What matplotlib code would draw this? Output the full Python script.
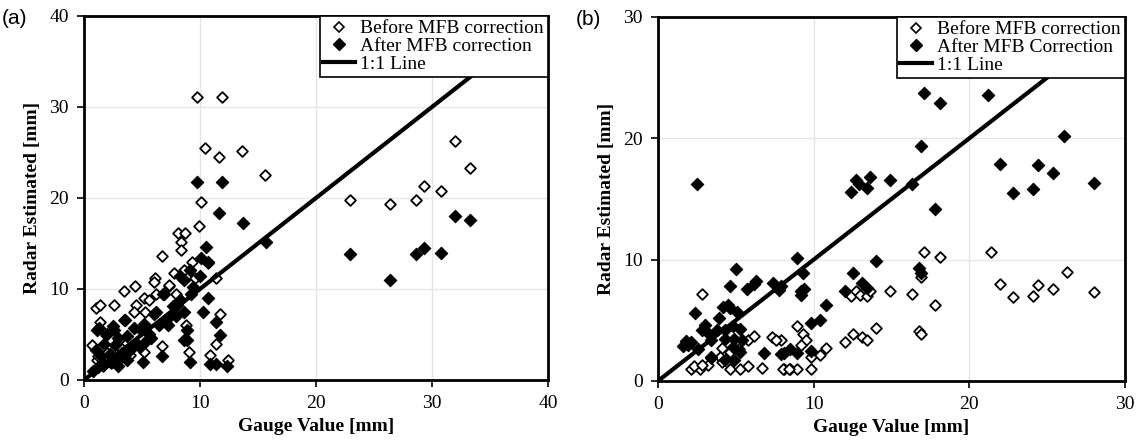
import matplotlib
matplotlib.use("Agg")
import matplotlib.pyplot as plt
from matplotlib.lines import Line2D

# (a) gauge vs radar
a_before_x = [9.7, 11.9, 10.4, 11.6, 13.6, 15.6, 10.1, 9.9, 8.1, 8.7, 8.4, 8.4, 6.7, 9.3,
              10.7, 6.1, 7.8, 8.6, 3.45, 4.4, 7.3, 9.6, 11.4, 1.0, 1.4, 2.6, 4.45, 5.2,
              5.6, 4.3, 5.3, 6.2, 6.0, 7.3, 7.9, 1.4, 3.45, 8.8, 11.7, 5.2, 6.75, 9.05,
              11.4, 10.9, 12.4, 1.1, 0.7, 1.2, 2.0, 2.7, 3.2, 1.6, 2.3, 3.0, 4.0, 1.9,
              22.9, 26.4, 28.6, 29.3, 30.8, 32.0, 33.3]
a_before_y = [31.1, 31.1, 25.5, 24.5, 25.2, 22.5, 19.6, 16.9, 16.1, 16.1, 15.2, 14.3, 13.6,
              13.0, 12.9, 11.2, 11.8, 12.1, 9.8, 10.3, 10.3, 11.2, 11.2, 7.9, 8.2, 8.2, 8.2,
              9.0, 8.8, 7.5, 7.5, 9.5, 10.8, 10.4, 9.5, 6.4, 6.6, 6.0, 7.3, 3.1, 3.7, 3.1,
              4.0, 2.7, 2.2, 2.2, 3.8, 2.6, 3.0, 2.2, 3.5, 1.5, 1.9, 4.4, 2.8, 4.9,
              19.8, 19.3, 19.8, 21.3, 20.8, 26.3, 23.3]

a_after_x = [9.7, 11.9, 11.6, 13.7, 15.7, 10.5, 10.1, 10.7, 8.3, 8.6, 9.1, 10.0, 6.8, 10.7,
             10.3, 11.4, 11.7, 8.9, 8.9, 5.1, 6.7, 9.1, 10.9, 11.4, 12.3, 1.1, 2.5, 3.5,
             6.0, 7.7, 8.3, 1.3, 2.6, 4.3, 5.2, 4.9, 6.2, 6.9, 7.0, 7.9, 8.6, 8.3, 9.2,
             5.3, 8.6, 2.9, 1.7, 3.7, 4.0, 2.7, 1.7, 1.0, 2.0, 2.9, 3.7, 0.8, 1.5, 2.2,
             3.1, 4.6, 5.6, 6.5, 7.4, 1.2, 2.4, 3.3, 4.8, 5.8, 7.2, 8.0, 9.4,
             22.9, 26.4, 28.6, 29.3, 30.8, 32.0, 33.3]
a_after_y = [21.8, 21.8, 18.3, 17.2, 15.2, 14.6, 13.4, 13.0, 11.4, 11.0, 12.1, 11.4, 9.5, 9.0,
             7.5, 6.4, 4.9, 5.5, 4.4, 2.0, 2.6, 2.0, 1.8, 1.8, 1.5, 5.5, 5.9, 6.6, 7.3,
             8.1, 8.8, 5.7, 5.5, 5.7, 6.2, 5.5, 7.5, 9.5, 6.6, 7.0, 7.5, 8.8, 9.5, 4.2,
             4.4, 1.5, 1.8, 2.2, 3.3, 3.8, 4.0, 3.3, 5.1, 4.6, 4.8, 1.0, 2.6, 2.9, 2.4,
             4.0, 5.0, 6.0, 7.0, 1.4, 2.0, 3.0, 3.6, 4.6, 6.0, 8.2, 10.2,
             13.9, 11.0, 13.9, 14.5, 14.0, 18.0, 17.6]

# (b)
b_before_x = [17.1, 18.1, 21.4, 22.0, 22.8, 17.8, 16.9, 14.9, 16.3, 12.4, 12.7, 13.0, 13.4,
              13.6, 14.0, 12.0, 12.5, 13.1, 13.4, 16.8, 16.9, 10.8, 10.4, 9.8, 8.9, 9.3,
              9.5, 9.2, 7.9, 8.1, 8.5, 8.9, 9.8, 24.1, 24.4, 25.4, 26.3, 28.0, 2.8,
              5.8, 6.2, 7.3, 7.6, 6.7, 8.0, 8.4, 4.1, 4.6, 5.2, 4.0, 2.15, 2.7, 3.2, 4.1,
              4.6, 5.3, 5.8, 3.4, 2.3, 2.8]
b_before_y = [10.6, 10.2, 10.6, 8.0, 6.9, 6.3, 8.6, 7.4, 7.2, 7.0, 7.4, 7.1, 7.0, 7.4, 4.4,
              3.2, 3.9, 3.6, 3.4, 4.1, 3.9, 2.7, 2.1, 2.0, 4.5, 3.9, 3.4, 3.0, 3.4, 1.0,
              1.0, 1.0, 1.0, 7.0, 7.9, 7.6, 9.0, 7.3, 7.2, 3.4, 3.7, 3.65, 3.4, 1.1, 1.0,
              1.0, 2.7, 2.4, 2.6, 2.0, 1.0, 1.0, 1.3, 1.6, 1.0, 1.0, 1.2, 1.9, 1.2, 1.3]

b_after_x = [17.1, 18.1, 21.2, 16.9, 22.0, 12.7, 13.6, 12.4, 13.4, 12.9, 14.9, 16.3, 17.8,
             22.8, 8.9, 9.3, 9.4, 9.2, 7.9, 14.0, 12.5, 12.0, 13.1, 13.4, 16.8, 16.9,
             10.8, 9.8, 10.4, 8.5, 7.9, 8.9, 9.8, 24.4, 25.4, 24.1, 28.0, 26.1, 2.5,
             4.6, 5.7, 6.2, 4.2, 4.6, 5.05, 2.4, 2.8, 3.3, 3.8, 4.3, 4.8, 5.3, 3.4, 4.3,
             4.9, 5.4, 2.15, 1.9, 4.8, 5.3, 3.4, 4.3, 4.9, 2.6, 5.0, 6.3, 7.4, 7.8, 9.2,
             6.8, 8.1, 1.6, 1.8, 3.0, 3.9, 4.5]
b_after_y = [23.7, 22.9, 23.6, 19.4, 17.9, 16.6, 16.8, 15.6, 15.9, 16.2, 16.6, 16.2, 14.2,
             15.5, 10.1, 8.9, 7.6, 7.1, 7.8, 9.9, 8.9, 7.4, 8.1, 7.7, 9.3, 8.9, 6.3, 4.8,
             5.0, 2.6, 2.2, 2.3, 2.5, 17.8, 17.1, 15.8, 16.3, 20.2, 16.2, 7.8, 7.6, 8.0,
             6.1, 6.0, 5.7, 5.6, 4.2, 3.9, 4.2, 4.2, 4.5, 4.3, 3.4, 3.5, 3.5, 3.4, 3.2,
             3.0, 2.8, 2.4, 2.0, 1.7, 1.7, 2.6, 9.2, 8.2, 8.1, 7.5, 7.4, 2.3, 2.3, 2.9,
             3.3, 4.6, 5.2, 6.3]

panels = [
    ("(a)", a_before_x, a_before_y, a_after_x, a_after_y, 40,
     ["Before MFB correction", "After MFB correction", "1:1 Line"]),
    ("(b)", b_before_x, b_before_y, b_after_x, b_after_y, 30,
     ["Before MFB correction", "After MFB Correction", "1:1 Line"]),
]

serif = "Liberation Serif"
fig = plt.figure(figsize=(11.37, 4.48), dpi=100)
rects = [[0.0739, 0.1518, 0.408, 0.8125], [0.5787, 0.1496, 0.4107, 0.8125]]

for rect, (tag, bx, by, ax_, ay, lim, labels) in zip(rects, panels):
    ax = fig.add_axes(rect)
    ax.scatter(bx, by, marker="D", s=30, facecolor="white", edgecolor="black",
               linewidth=1.3, zorder=3)
    ax.scatter(ax_, ay, marker="D", s=40, facecolor="black", edgecolor="black",
               linewidth=0.8, zorder=4)
    ax.plot([0, lim], [0, lim], color="black", linewidth=3, zorder=5)
    ax.set_xlim(0, lim)
    ax.set_ylim(0, lim)
    ticks = list(range(0, lim + 1, 10))
    ax.set_xticks(ticks)
    ax.set_yticks(ticks)
    ax.grid(True, color="#e6e6e6", linewidth=1.0, zorder=0)
    ax.set_axisbelow(True)
    for sp in ax.spines.values():
        sp.set_linewidth(2)
    ax.tick_params(direction="out", length=5, width=1.2, labelsize=14, pad=6)
    for lab in ax.get_xticklabels() + ax.get_yticklabels():
        lab.set_family(serif)
    ax.set_xlabel("Gauge Value [mm]", family=serif, fontsize=14, fontweight="bold",
                  labelpad=4)
    ax.set_ylabel("Radar Estimated [mm]", family=serif, fontsize=14, fontweight="bold",
                  labelpad=6)

    handles = [
        Line2D([], [], marker="D", linestyle="none", markersize=5.5,
               markerfacecolor="white", markeredgecolor="black", markeredgewidth=1.2),
        Line2D([], [], marker="D", linestyle="none", markersize=6,
               markerfacecolor="black", markeredgecolor="black"),
        Line2D([], [], color="black", linewidth=3),
    ]
    leg = ax.legend(handles, labels, loc="upper right", borderaxespad=0,
                    prop={"family": serif, "size": 14}, frameon=True,
                    fancybox=False, framealpha=1, edgecolor="black",
                    handlelength=1.6, handletextpad=0.3, labelspacing=0.0,
                    borderpad=0.2)
    leg.get_frame().set_linewidth(1.2)
    leg.set_zorder(10)

    fig.text(rect[0] - 0.072, rect[1] + rect[3] - 0.005, tag, family="Liberation Sans",
             fontsize=15, ha="left", va="center")

fig.savefig("out.png", dpi=100)
